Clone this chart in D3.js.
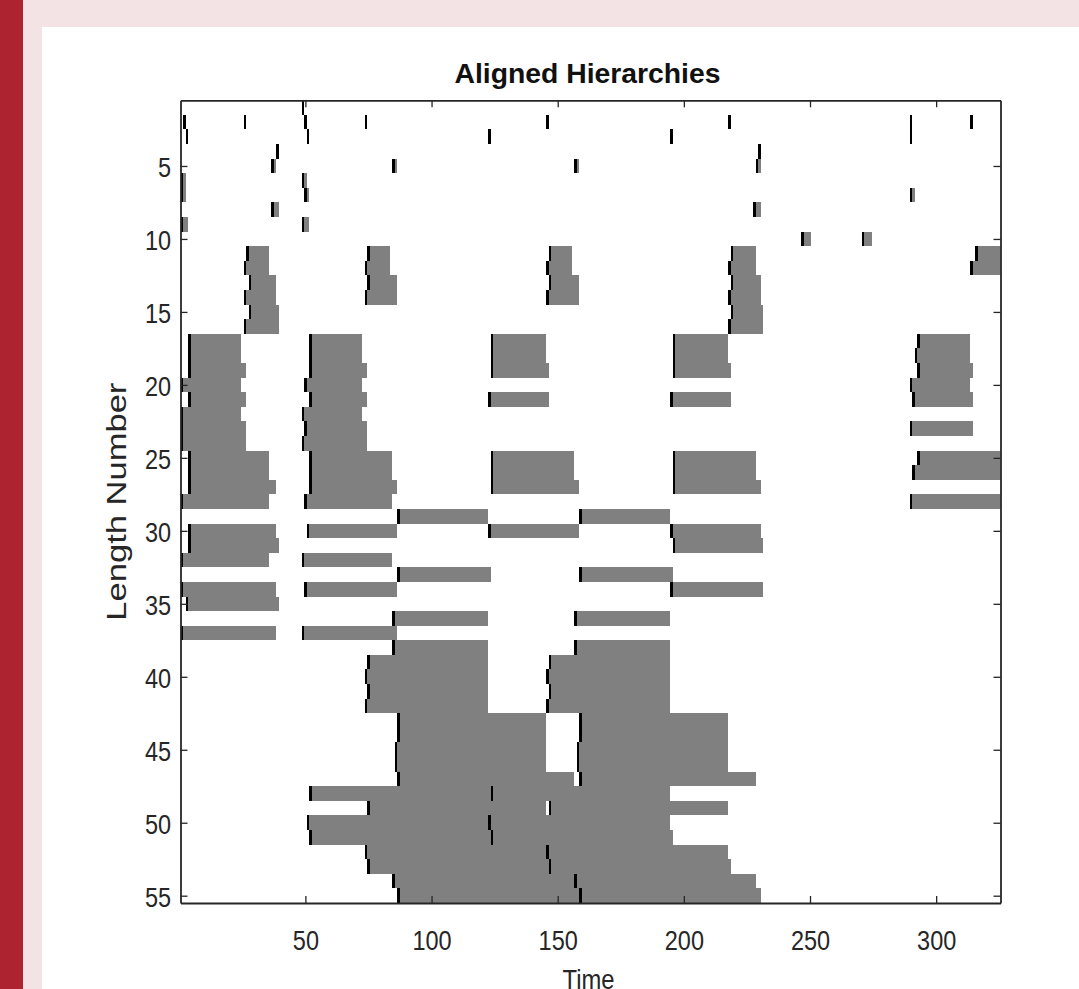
<!DOCTYPE html>
<html>
<head>
<meta charset="utf-8">
<script src="https://d3js.org/d3.v7.min.js"></script>
<style>
  body { margin: 0; background: #f4e3e5; overflow: hidden; }
  text { font-family: "Liberation Sans", Arial, Helvetica, sans-serif; }
</style>
</head>
<body>
<div id="chart"></div>
<script>
// song length and number of rows in the hierarchy picture
const timeSteps = 325;
const lengthCount = 55;
const xTickValues = [50, 100, 150, 200, 250, 300];
const yTickValues = [5, 10, 15, 20, 25, 30, 35, 40, 45, 50, 55];

// every repeat: [length number (row), first time step, last time step]
const shortRepeats = [
  [1, 49, 49],
  [2, 2, 2], [2, 26, 26], [2, 50, 50], [2, 74, 74], [2, 146, 146], [2, 218, 218], [2, 290, 290], [2, 314, 314],
  [3, 3, 3], [3, 51, 51], [3, 123, 123], [3, 195, 195], [3, 290, 290],
  [4, 39, 39], [4, 230, 230],
  [5, 37, 38], [5, 85, 86], [5, 157, 158], [5, 229, 230],
  [6, 1, 2], [6, 49, 50],
  [7, 1, 2], [7, 50, 51], [7, 290, 291],
  [8, 37, 39], [8, 228, 230],
  [9, 1, 3], [9, 49, 51],
  [10, 247, 250], [10, 271, 274]
];

const upperRepeats = [
  [11, 27, 35], [11, 75, 83], [11, 147, 155], [11, 219, 228], [11, 316, 325],
  [12, 26, 35], [12, 74, 83], [12, 146, 155], [12, 218, 228], [12, 314, 325],
  [13, 28, 38], [13, 75, 86], [13, 147, 158], [13, 219, 230],
  [14, 26, 38], [14, 74, 86], [14, 146, 158], [14, 218, 230],
  [15, 28, 39], [15, 219, 231],
  [16, 26, 39], [16, 218, 231],
  [17, 4, 24], [17, 52, 72], [17, 124, 145], [17, 196, 217], [17, 293, 313],
  [18, 4, 24], [18, 52, 72], [18, 124, 145], [18, 196, 217], [18, 292, 313],
  [19, 4, 26], [19, 52, 74], [19, 124, 146], [19, 196, 218], [19, 293, 314],
  [20, 1, 24], [20, 50, 72], [20, 290, 313],
  [21, 4, 26], [21, 52, 74], [21, 123, 146], [21, 195, 218], [21, 291, 314],
  [22, 1, 24], [22, 49, 72],
  [23, 1, 26], [23, 50, 74], [23, 290, 314],
  [24, 1, 26], [24, 49, 74],
  [25, 4, 35], [25, 52, 84], [25, 124, 156], [25, 196, 228], [25, 293, 325],
  [26, 4, 35], [26, 52, 84], [26, 124, 156], [26, 196, 228], [26, 291, 325],
  [27, 4, 38], [27, 52, 86], [27, 124, 158], [27, 196, 230],
  [28, 1, 35], [28, 50, 84], [28, 290, 325]
];

const middleRepeats = [
  [29, 87, 122], [29, 159, 194],
  [30, 4, 38], [30, 51, 86], [30, 123, 158], [30, 195, 230],
  [31, 4, 39], [31, 196, 231],
  [32, 1, 35], [32, 49, 84],
  [33, 87, 123], [33, 159, 195],
  [34, 1, 38], [34, 50, 86], [34, 195, 231],
  [35, 3, 39],
  [36, 85, 122], [36, 157, 194],
  [37, 1, 38], [37, 49, 86],
  [38, 85, 122], [38, 157, 194]
];

const lowerRepeats = [
  [39, 75, 122], [39, 147, 194],
  [40, 74, 122], [40, 146, 194],
  [41, 75, 122], [41, 147, 194],
  [42, 74, 122], [42, 146, 194],
  [43, 87, 145], [43, 159, 217],
  [44, 87, 145], [44, 159, 217],
  [45, 86, 145], [45, 158, 217],
  [46, 86, 145], [46, 158, 217],
  [47, 87, 156], [47, 159, 228],
  [48, 52, 123], [48, 124, 194],
  [49, 75, 145], [49, 147, 217],
  [50, 51, 122], [50, 123, 194],
  [51, 52, 123], [51, 124, 195],
  [52, 74, 145], [52, 146, 217],
  [53, 75, 146], [53, 147, 218],
  [54, 85, 156], [54, 157, 228],
  [55, 87, 158], [55, 159, 230]
];

(function () {
  var width = 1079, height = 989;
  var left = 180.5, right = 1000.5, top = 100.3, bottom = 903;

  var svg = d3.select("#chart").append("svg")
    .attr("width", width)
    .attr("height", height);

  // page: pink ground, red strip, white sheet
  svg.append("rect").attr("width", width).attr("height", height).attr("fill", "#f4e3e5");
  svg.append("rect").attr("width", 23).attr("height", height).attr("fill", "#ae2330");
  svg.append("rect").attr("x", 42).attr("y", 27)
    .attr("width", width - 42).attr("height", height - 27).attr("fill", "#ffffff");

  var x = d3.scaleLinear().domain([0.5, timeSteps + 0.5]).range([left, right]);
  var y = d3.scaleLinear().domain([0.5, lengthCount + 0.5]).range([top, bottom]);

  svg.append("clipPath").attr("id", "plotclip")
    .append("rect").attr("x", left).attr("y", top)
    .attr("width", right - left).attr("height", bottom - top);

  var repeats = [].concat(shortRepeats, upperRepeats, middleRepeats, lowerRepeats);

  var plot = svg.append("g").attr("clip-path", "url(#plotclip)");

  plot.selectAll("rect.bar")
    .data(repeats)
    .enter().append("rect")
    .attr("class", "bar")
    .attr("shape-rendering", "crispEdges")
    .attr("x", function (d) { return x(d[1] - 0.5); })
    .attr("width", function (d) { return x(d[2] + 0.5) - x(d[1] - 0.5); })
    .attr("y", function (d) { return y(d[0] - 0.5); })
    .attr("height", function (d) { return y(d[0] + 0.5) - y(d[0] - 0.5); })
    .attr("fill", "#808080");

  // black stroke at the start of each repeat
  plot.selectAll("rect.mark")
    .data(repeats)
    .enter().append("rect")
    .attr("class", "mark")
    .attr("shape-rendering", "crispEdges")
    .attr("x", function (d) { return x(d[1] - 0.5); })
    .attr("width", function (d) { return x(d[1] + 0.5) - x(d[1] - 0.5); })
    .attr("y", function (d) { return y(d[0] - 0.5); })
    .attr("height", function (d) { return y(d[0] + 0.5) - y(d[0] - 0.5); })
    .attr("fill", "#000000");

  var ink = "#262626";

  var gBottom = svg.append("g").attr("transform", "translate(0," + bottom + ")")
    .call(d3.axisBottom(x).tickValues(xTickValues).tickSize(-7).tickSizeOuter(0).tickPadding(24));
  var gTop = svg.append("g").attr("transform", "translate(0," + top + ")")
    .call(d3.axisTop(x).tickValues(xTickValues).tickSize(-7).tickSizeOuter(0).tickFormat(""));
  var gLeft = svg.append("g").attr("transform", "translate(" + left + ",0)")
    .call(d3.axisLeft(y).tickValues(yTickValues).tickSize(-7).tickSizeOuter(0).tickPadding(10));
  var gRight = svg.append("g").attr("transform", "translate(" + right + ",0)")
    .call(d3.axisRight(y).tickValues(yTickValues).tickSize(-7).tickSizeOuter(0).tickFormat(""));

  [gBottom, gTop, gLeft, gRight].forEach(function (g) {
    g.select(".domain").attr("stroke", ink).attr("stroke-width", 1.8);
    g.selectAll(".tick line").attr("stroke", ink).attr("stroke-width", 1.3);
    g.selectAll(".tick text").attr("fill", ink).attr("font-size", 25)
      .attr("font-family", "Liberation Sans, Arial, sans-serif")
      .attr("transform", "scale(0.94,1.12)");
  });
  gLeft.selectAll(".tick text").attr("dy", "0.38em");

  svg.append("text")
    .attr("x", (left + right) / 2 - 3)
    .attr("y", 83)
    .attr("text-anchor", "middle")
    .attr("font-size", 28)
    .attr("font-weight", "bold")
    .attr("fill", "#111")
    .attr("textLength", 266)
    .attr("lengthAdjust", "spacingAndGlyphs")
    .text("Aligned Hierarchies");

  svg.append("text")
    .attr("transform", "translate(126," + ((top + bottom) / 2) + ") rotate(-90)")
    .attr("text-anchor", "middle")
    .attr("font-size", 27)
    .attr("fill", ink)
    .attr("textLength", 238)
    .attr("lengthAdjust", "spacingAndGlyphs")
    .text("Length Number");

  svg.append("text")
    .attr("x", (left + right) / 2 - 2)
    .attr("y", 989)
    .attr("text-anchor", "middle")
    .attr("font-size", 27)
    .attr("fill", ink)
    .attr("textLength", 52)
    .attr("lengthAdjust", "spacingAndGlyphs")
    .text("Time");
})();
</script>
</body>
</html>
